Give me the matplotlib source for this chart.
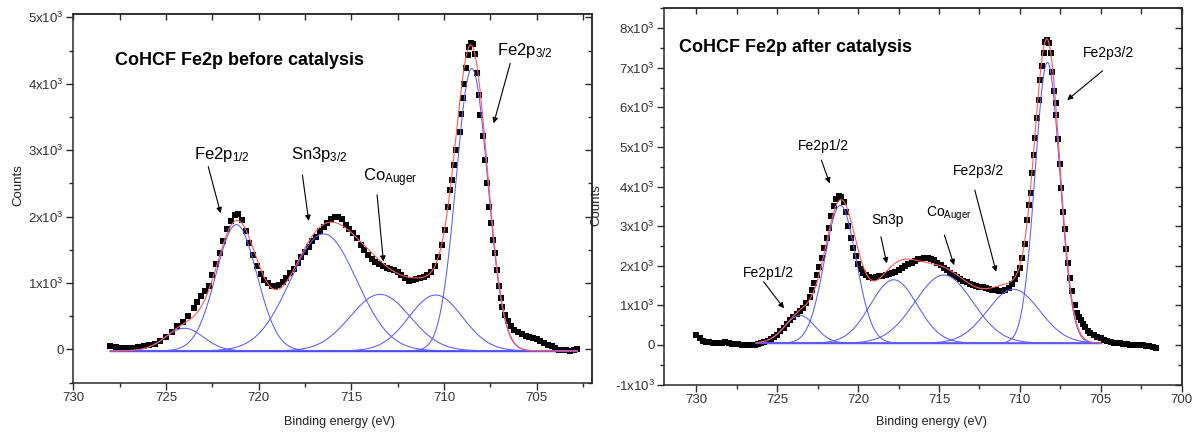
import numpy as np
import matplotlib
matplotlib.use('Agg')
import matplotlib.pyplot as plt
from matplotlib.ticker import MultipleLocator, FuncFormatter, NullFormatter

plt.rcParams['font.family'] = ['Liberation Sans', 'DejaVu Sans']
plt.rcParams['mathtext.default'] = 'regular'
plt.rcParams['axes.unicode_minus'] = False

# ---------------- data: before catalysis ----------------
energy_before = [728.0, 727.7, 727.4, 727.1, 726.8, 726.5, 726.2, 725.9, 725.6, 725.3,
                 725.0, 724.7, 724.4, 724.1, 723.8, 723.5, 723.3, 723.1, 722.9, 722.7,
                 722.5, 722.3, 722.1, 721.9, 721.7, 721.5, 721.3, 721.1, 720.9, 720.7,
                 720.5, 720.3, 720.1, 719.9, 719.7, 719.5, 719.3, 719.1, 718.9, 718.7,
                 718.5, 718.3, 718.1, 717.9, 717.7, 717.5, 717.3, 717.1, 716.9, 716.7,
                 716.5, 716.3, 716.1, 715.9, 715.7, 715.5, 715.3, 715.1, 714.9, 714.7,
                 714.5, 714.3, 714.1, 713.9, 713.7, 713.5, 713.3, 713.1, 712.9, 712.7,
                 712.5, 712.3, 712.1, 711.9, 711.7, 711.5, 711.3, 711.1, 710.9, 710.7,
                 710.5, 710.3, 710.1, 709.95, 709.8, 709.7, 709.55, 709.47, 709.33, 709.16,
                 709.07, 708.98, 708.9, 708.8, 708.71, 708.63, 708.54, 708.45, 708.35, 708.22,
                 708.13, 708.04, 707.91, 707.77, 707.68, 707.57, 707.45, 707.35, 707.25, 707.15,
                 707.05, 706.95, 706.85, 706.7, 706.55, 706.4, 706.2, 706.0, 705.8, 705.6,
                 705.4, 705.2, 705.0, 704.8, 704.6, 704.4, 704.2, 704.0, 703.8, 703.6,
                 703.4, 703.2, 703.0, 702.8]
counts_before = [45, 35, 20, 25, 15, 35, 55, 65, 90, 130,
                 195, 260, 350, 420, 510, 620, 720, 810, 880, 960,
                 1120, 1280, 1450, 1640, 1820, 1930, 2030, 2040, 1950, 1780,
                 1600, 1420, 1250, 1130, 1050, 1000, 960, 950, 975, 1010,
                 1070, 1150, 1210, 1300, 1390, 1470, 1550, 1630, 1700, 1780,
                 1850, 1900, 1960, 1990, 2000, 1960, 1880, 1820, 1760, 1680,
                 1580, 1500, 1420, 1360, 1320, 1290, 1260, 1230, 1210, 1190,
                 1160, 1120, 1070, 1030, 1050, 1060, 1070, 1090, 1120, 1170,
                 1260, 1390, 1580, 1800, 2150, 2400, 2550, 2780, 3000, 3280,
                 3550, 3780, 4000, 4230, 4430, 4560, 4610, 4600, 4450, 4160,
                 3830, 3530, 3210, 2850, 2500, 2150, 1900, 1650, 1450, 1200,
                 960, 780, 640, 520, 430, 360, 300, 270, 230, 200,
                 195, 180, 165, 130, 100, 70, 45, 15, -10, -15,
                 -5, -20, -15, 10]

peak_center_before = [724.0, 721.2, 716.5, 713.45, 710.45, 708.5]
peak_height_before = [340, 1900, 1760, 850, 840, 4250]
peak_fwhm_before = [2.4, 2.6, 4.2, 3.8, 3.4, 2.0]
baseline_before = -20
fit_range_before = [728.0, 702.8]

# ---------------- data: after catalysis ----------------
energy_after = [730.0, 729.8, 729.6, 729.4, 729.2, 729.0, 728.8, 728.6, 728.4, 728.2,
                728.0, 727.8, 727.6, 727.4, 727.2, 727.0, 726.8, 726.6, 726.4, 726.2,
                726.0, 725.8, 725.6, 725.4, 725.2, 725.0, 724.8, 724.6, 724.4, 724.2,
                724.0, 723.8, 723.6, 723.4, 723.2, 723.0, 722.85, 722.7, 722.55, 722.4,
                722.25, 722.1, 721.95, 721.8, 721.65, 721.5, 721.35, 721.2, 721.05, 720.9,
                720.75, 720.6, 720.45, 720.3, 720.15, 720.0, 719.85, 719.7, 719.5, 719.3,
                719.1, 718.9, 718.7, 718.5, 718.3, 718.1, 717.9, 717.7, 717.5, 717.3,
                717.1, 716.9, 716.7, 716.5, 716.3, 716.1, 715.9, 715.7, 715.5, 715.3,
                715.1, 714.9, 714.7, 714.5, 714.3, 714.1, 713.9, 713.7, 713.5, 713.3,
                713.1, 712.9, 712.7, 712.5, 712.3, 712.1, 711.9, 711.7, 711.5, 711.3,
                711.1, 710.9, 710.7, 710.5, 710.3, 710.15, 710.0, 709.85, 709.7, 709.55,
                709.41, 709.33, 709.25, 709.14, 709.08, 708.97, 708.85, 708.73, 708.63, 708.52,
                708.42, 708.32, 708.2, 708.1, 708.0, 707.9, 707.8, 707.74, 707.64, 707.53,
                707.43, 707.33, 707.23, 707.13, 707.0, 706.9, 706.75, 706.6, 706.47, 706.35,
                706.23, 706.1, 705.95, 705.8, 705.64, 705.45, 705.26, 705.0, 704.8, 704.6,
                704.4, 704.2, 704.0, 703.8, 703.6, 703.4, 703.2, 703.0, 702.8, 702.6,
                702.4, 702.2, 702.0, 701.8, 701.6]
counts_after = [250, 170, 110, 85, 75, 60, 55, 40, 60, 70,
                50, 30, 25, 20, 10, 5, 0, -5, 10, 30,
                45, 80, 110, 150, 210, 260, 340, 430, 540, 630,
                700, 770, 850, 940, 1060, 1220, 1380, 1560, 1760, 1960,
                2200, 2450, 2700, 2950, 3250, 3500, 3680, 3750, 3740, 3620,
                3350, 3000, 2700, 2450, 2250, 2050, 1920, 1820, 1760, 1720,
                1700, 1710, 1730, 1750, 1770, 1790, 1810, 1840, 1880, 1930,
                1990, 2040, 2080, 2120, 2160, 2180, 2200, 2190, 2170, 2140,
                2080, 2010, 1940, 1880, 1820, 1760, 1710, 1670, 1620, 1580,
                1550, 1520, 1490, 1470, 1450, 1430, 1410, 1390, 1380, 1370,
                1370, 1390, 1440, 1530, 1660, 1800, 1950, 2200, 2550, 3150,
                3530, 3830, 4330, 4790, 5220, 5720, 6180, 6690, 7040, 7360,
                7650, 7710, 7630, 7360, 6900, 6420, 6100, 5800, 5190, 4580,
                3950, 3360, 2920, 2410, 2075, 1690, 1350, 1020, 800, 700,
                630, 540, 460, 360, 300, 250, 205, 170, 130, 100,
                75, 60, 50, 40, 30, 20, 10, 0, -5, -5,
                -15, -20, -30, -45, -80]

peak_center_after = [723.6, 721.1, 717.8, 714.7, 710.4, 708.3]
peak_height_after = [700, 3480, 1600, 1720, 1360, 7090]
peak_fwhm_after = [2.2, 2.3, 3.4, 4.2, 3.8, 1.8]
baseline_after = 45
fit_range_after = [726.3, 705.0]

W, H = 1203, 434
fig = plt.figure(figsize=(W / 100, H / 100), dpi=100)

ax1 = fig.add_axes([73.3 / W, 1 - 382.7 / H, (592.3 - 73.3) / W, (382.7 - 14) / H])
ax2 = fig.add_axes([664 / W, 1 - 384.5 / H, (1181.7 - 664) / W, (384.5 - 8.3) / H])

spine_col = '#2a2a2a'
blue_c = '#5c5cff'
base_c = '#2a2aff'
red_c = '#ff5c5c'


def ytick_fmt(v, pos):
    if abs(v) < 1e-9:
        return '0'
    k = int(round(v / 1000))
    return f'{k}x10$^{{3}}$'


def gauss(x, c, h, w):
    s = w / 2.3548
    return h * np.exp(-0.5 * ((x - c) / s) ** 2)


def draw_panel(ax, E, C, centers, heights, fwhms, base, rng, xlim, ylim):
    ax.plot(E, C, 's', color='black', ms=3.9, mew=0, zorder=2)
    xx = np.linspace(rng[0], rng[1], 800)
    total = np.full_like(xx, float(base))
    ax.plot(rng, [base, base], color=base_c, lw=1.0, zorder=3)
    for c, h, w in zip(centers, heights, fwhms):
        g = gauss(xx, c, h, w)
        total = total + g
        ax.plot(xx, base + g, color=blue_c, lw=0.75, zorder=3)
    ax.plot(xx, total, color=red_c, lw=0.8, zorder=4)
    ax.set_xlim(*xlim)
    ax.set_ylim(*ylim)
    ax.xaxis.set_major_locator(MultipleLocator(5))
    ax.xaxis.set_minor_locator(MultipleLocator(2.5))
    ax.yaxis.set_major_locator(MultipleLocator(1000))
    ax.yaxis.set_minor_locator(MultipleLocator(500))
    ax.yaxis.set_major_formatter(FuncFormatter(ytick_fmt))
    ax.xaxis.set_major_formatter(FuncFormatter(lambda v, p: f'{v:.0f}'))
    for s in ax.spines.values():
        s.set_color(spine_col)
        s.set_linewidth(1.1)
    ax.tick_params(which='both', top=False, right=False, direction='out',
                   color=spine_col, width=1.0, labelsize=9.5, labelcolor='#333333', pad=2)
    ax.tick_params(which='major', length=4.8)
    ax.tick_params(which='minor', length=2.6)
    sx = ax.secondary_xaxis('top')
    sx.xaxis.set_major_locator(MultipleLocator(5))
    sx.xaxis.set_minor_locator(MultipleLocator(2.5))
    sx.xaxis.set_major_formatter(NullFormatter())
    sx.tick_params(which='both', direction='in', color=spine_col, width=1.0)
    sx.tick_params(which='major', length=4.5)
    sx.tick_params(which='minor', length=4.0)
    sx.spines['top'].set_color(spine_col)
    sx.spines['top'].set_linewidth(1.1)
    sy = ax.secondary_yaxis('right')
    sy.yaxis.set_major_locator(MultipleLocator(1000))
    sy.yaxis.set_minor_locator(MultipleLocator(500))
    sy.yaxis.set_major_formatter(NullFormatter())
    sy.tick_params(which='both', direction='in', color=spine_col, width=1.0)
    sy.tick_params(which='major', length=4.8)
    sy.tick_params(which='minor', length=3.0)
    sy.spines['right'].set_color(spine_col)
    sy.spines['right'].set_linewidth(1.1)


draw_panel(ax1, energy_before, counts_before, peak_center_before, peak_height_before,
           peak_fwhm_before, baseline_before, fit_range_before, (730, 702), (-500, 5050))
draw_panel(ax2, energy_after, counts_after, peak_center_after, peak_height_after,
           peak_fwhm_after, baseline_after, fit_range_after, (732, 700), (-1000, 8500))

arrow = dict(arrowstyle='-|>', color='black', lw=0.8, mutation_scale=8,
             shrinkA=0, shrinkB=0)

# ---- left panel texts ----
ax1.text(727.77, 4280, 'CoHCF Fe2p before catalysis', fontsize=13, fontweight='bold',
         ha='left', va='baseline')
ax1.text(723.48, 2863, 'Fe2p$_{1/2}$', fontsize=12, ha='left', va='baseline')
ax1.annotate('', xy=(722.05, 2051), xytext=(722.72, 2752), arrowprops=arrow)
ax1.text(718.25, 2863, 'Sn3p$_{3/2}$', fontsize=12, ha='left', va='baseline')
ax1.annotate('', xy=(717.3, 1935), xytext=(717.64, 2627), arrowprops=arrow)
ax1.text(714.38, 2526, 'Co$_{Auger}$', fontsize=12, ha='left', va='baseline')
ax1.annotate('', xy=(713.27, 1323), xytext=(713.61, 2326), arrowprops=arrow)
ax1.text(707.14, 4432, 'Fe2p$_{3/2}$', fontsize=12, ha='left', va='baseline')
ax1.annotate('', xy=(707.32, 3405), xytext=(706.43, 4307), arrowprops=arrow)

# ---- right panel texts ----
ax2.text(731.08, 7402, 'CoHCF Fe2p after catalysis', fontsize=13, fontweight='bold',
         ha='left', va='baseline')
ax2.text(723.74, 4919, 'Fe2p1/2', fontsize=10, ha='left', va='baseline')
ax2.annotate('', xy=(721.76, 4078), xytext=(722.27, 4667), arrowprops=arrow)
ax2.text(719.19, 3050, 'Sn3p', fontsize=10, ha='left', va='baseline')
ax2.annotate('', xy=(718.23, 2058), xytext=(718.59, 2730), arrowprops=arrow)
ax2.text(715.78, 3235, 'Co$_{Auger}$', fontsize=10, ha='left', va='baseline')
ax2.annotate('', xy=(714.07, 2015), xytext=(714.67, 2773), arrowprops=arrow)
ax2.text(714.15, 4288, 'Fe2p3/2', fontsize=10, ha='left', va='baseline')
ax2.annotate('', xy=(711.47, 1846), xytext=(712.79, 3909), arrowprops=arrow)
ax2.text(706.13, 7275, 'Fe2p3/2', fontsize=10, ha='left', va='baseline')
ax2.annotate('', xy=(707.08, 6182), xytext=(704.89, 6922), arrowprops=arrow)
ax2.text(727.15, 1720, 'Fe2p1/2', fontsize=10, ha='left', va='baseline')
ax2.annotate('', xy=(724.58, 922), xytext=(725.84, 1593), arrowprops=arrow)

# ---- axis labels ----
fig.text(18 / W, 1 - 185 / H, 'Counts', rotation=90, fontsize=9.5, ha='center', va='center',
         color='#222222')
fig.text(596 / W, 1 - 205 / H, 'Counts', rotation=90, fontsize=9.5, ha='center', va='center',
         color='#222222')
fig.text(339 / W, 1 - 421.7 / H, 'Binding energy (eV)', fontsize=9, ha='center', va='center',
         color='#222222')
fig.text(931 / W, 1 - 421.7 / H, 'Binding energy (eV)', fontsize=9, ha='center', va='center',
         color='#222222')

fig.savefig('out.png', dpi=100)
